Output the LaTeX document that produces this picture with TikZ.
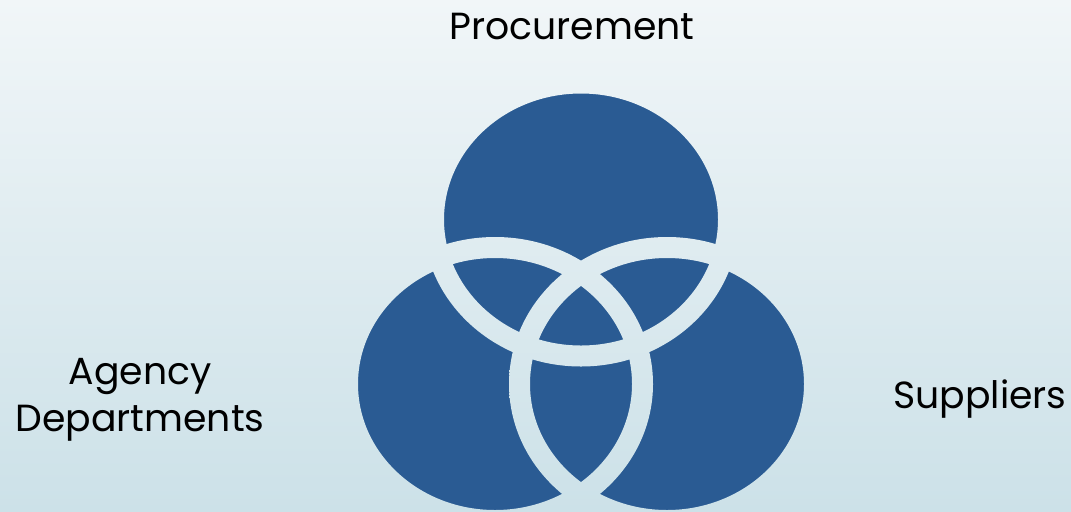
\documentclass[tikz,border=0pt]{standalone}
\usepackage{fontspec}
\setmainfont{Poppins}

\definecolor{setblue}{HTML}{2A5B93}
\definecolor{bgtop}{HTML}{F1F6F8}
\definecolor{bgbottom}{HTML}{CCE1E8}

\tikzset{
  backdrop/.style={top color=bgtop, bottom color=bgbottom},
  setlabel/.style={font=\fontsize{21.5}{27}\selectfont, text=black, inner sep=0pt},
}

\begin{document}
\begin{tikzpicture}[x=0.02cm, y=-0.02cm]
  \clip (0,0) rectangle (1071,511);
  \shade[backdrop] (0,0) rectangle (1071,511);

  % the three sets
  \foreach \c in {(581,219.5), (495,384), (667,384)}
    \fill[setblue] \c ellipse [x radius=147.5, y radius=136.5];

  % light rings where the outlines run, same gradient as the backdrop
  \foreach \c in {(581,219.5), (495,384), (667,384)}{
    \begin{scope}[even odd rule]
      \clip \c ellipse [x radius=158, y radius=147]
            \c ellipse [x radius=137, y radius=126];
      \shade[backdrop] (0,0) rectangle (1071,511);
    \end{scope}
  }

  \node[setlabel] (procurement) at (572,27) {Procurement};
  \node[setlabel, align=center] (agency) at (140,400) {Agency\\Departments};
  \node[setlabel] (suppliers) at (980,399) {Suppliers};
\end{tikzpicture}
\end{document}
